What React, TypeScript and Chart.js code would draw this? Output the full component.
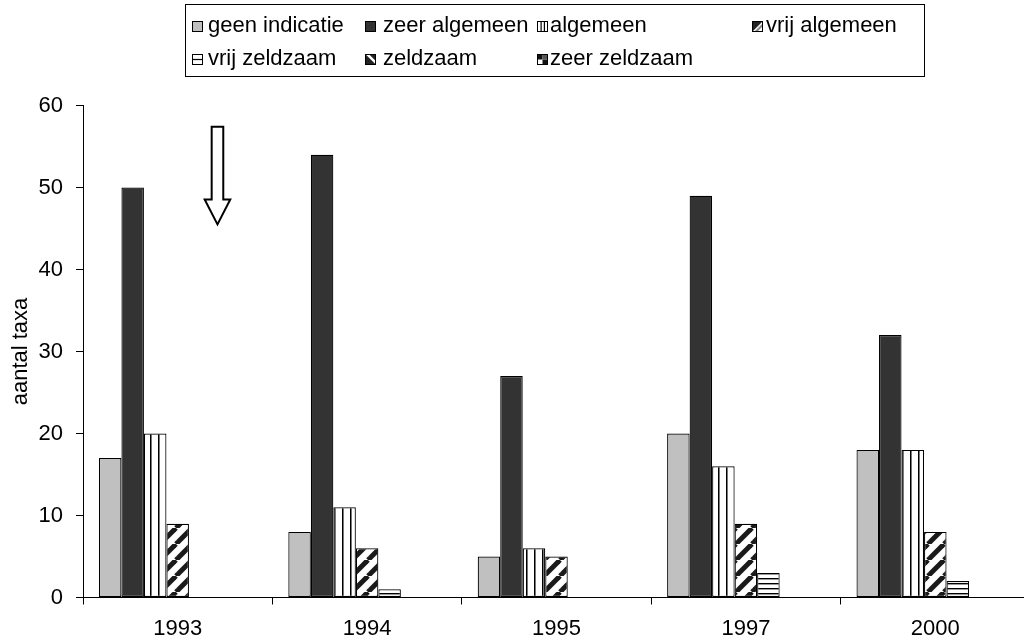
import { useEffect, useRef } from "react";
import { Chart, registerables } from "chart.js";

Chart.register(...registerables);

// Survey years on the category axis
const years = ["1993", "1994", "1995", "1997", "2000"];

// Abundance classes (series names, in drawing order)
const seriesNames = [
  "geen indicatie",
  "zeer algemeen",
  "algemeen",
  "vrij algemeen",
  "vrij zeldzaam",
  "zeldzaam",
  "zeer zeldzaam",
];

// Number of taxa per abundance class and year
const geenIndicatie = [17, 8, 5, 20, 18];
const zeerAlgemeen = [50, 54, 27, 49, 32];
const algemeen = [20, 11, 6, 16, 18];
const vrijAlgemeen = [9, 6, 5, 9, 8];
const vrijZeldzaam = [0, 1, 0, 3, 2];
const zeldzaam = [0, 0, 0, 0, 0];
const zeerZeldzaam = [0, 0, 0, 0, 0];

// Value axis
const yMin = 0;
const yMax = 60;
const yStep = 10;
const yTitle = "aantal taxa";

// Downward arrow marker: category index, fraction of a category to the right, from/to values
const arrowCategory = 0;
const arrowShift = 0.21;
const arrowFrom = 57.4;
const arrowTo = 45.5;

const FONT = "'Liberation Sans', Arial, Helvetica, sans-serif";
const FONT_SIZE = 22;

type Fill = string | CanvasPattern;

function tile(w: number, h: number, draw: (c: CanvasRenderingContext2D) => void): CanvasPattern {
  const cv = document.createElement("canvas");
  cv.width = w;
  cv.height = h;
  const c = cv.getContext("2d")!;
  c.fillStyle = "#ffffff";
  c.fillRect(0, 0, w, h);
  draw(c);
  return c.createPattern(cv, "repeat")!;
}

function buildFills(): Fill[] {
  const vertical = tile(8, 8, (c) => {
    c.fillStyle = "#000";
    c.fillRect(6, 0, 1, 8);
    c.fillStyle = "#777";
    c.fillRect(7, 0, 1, 8);
  });
  const diagUp = tile(16, 16, (c) => {
    c.strokeStyle = "#1a1a1a";
    c.lineWidth = 5;
    for (const o of [-16, 0, 16]) {
      c.beginPath();
      c.moveTo(o, 16);
      c.lineTo(o + 16, 0);
      c.stroke();
    }
  });
  const horizontal = tile(5, 5, (c) => {
    c.fillStyle = "#000";
    c.fillRect(0, 3, 5, 1);
    c.fillStyle = "#999";
    c.fillRect(0, 4, 5, 1);
  });
  const diagDown = tile(8, 8, (c) => {
    c.fillStyle = "#222";
    c.fillRect(0, 0, 8, 8);
    c.strokeStyle = "#fff";
    c.lineWidth = 2.5;
    for (const o of [-8, 0, 8]) {
      c.beginPath();
      c.moveTo(o, 0);
      c.lineTo(o + 8, 8);
      c.stroke();
    }
  });
  const checker = tile(8, 8, (c) => {
    c.fillStyle = "#111";
    c.fillRect(0, 0, 4, 4);
    c.fillRect(4, 4, 4, 4);
  });
  return ["#c0c0c0", "#333333", vertical, diagUp, horizontal, diagDown, checker];
}

// Small legend swatches, one per abundance class
function drawSwatch(c: CanvasRenderingContext2D, i: number, x: number, y: number, s: number) {
  c.save();
  c.fillStyle = "#fff";
  c.fillRect(x, y, s, s);
  c.beginPath();
  c.rect(x, y, s, s);
  c.clip();
  if (i === 0) {
    c.fillStyle = "#c0c0c0";
    c.fillRect(x, y, s, s);
  } else if (i === 1) {
    c.fillStyle = "#333";
    c.fillRect(x, y, s, s);
  } else if (i === 2) {
    c.fillStyle = "#000";
    c.fillRect(x + 3.5, y, 1.2, s);
    c.fillRect(x + 6.8, y, 1.2, s);
  } else if (i === 3) {
    c.fillStyle = "#222";
    c.beginPath();
    c.moveTo(x, y);
    c.lineTo(x + s, y);
    c.lineTo(x, y + s);
    c.closePath();
    c.fill();
    c.fillStyle = "#888";
    c.beginPath();
    c.moveTo(x + s, y + 2);
    c.lineTo(x + 2, y + s);
    c.lineTo(x + 5, y + s);
    c.lineTo(x + s, y + 5);
    c.closePath();
    c.fill();
  } else if (i === 4) {
    c.fillStyle = "#000";
    c.fillRect(x, y + s / 2 - 0.6, s, 1.2);
  } else if (i === 5) {
    c.fillStyle = "#222";
    c.fillRect(x, y, s, s);
    c.strokeStyle = "#fff";
    c.lineWidth = 2.5;
    c.beginPath();
    c.moveTo(x + 1, y - 1);
    c.lineTo(x + s + 1, y + s - 1);
    c.stroke();
  } else {
    c.fillStyle = "#111";
    c.fillRect(x, y, s / 2, s / 2);
    c.fillRect(x + s / 2, y + s / 2, s / 2, s / 2);
    c.fillStyle = "#555";
    c.fillRect(x + s / 2, y, s / 2, s / 2);
  }
  c.restore();
  c.strokeStyle = "#000";
  c.lineWidth = 1;
  c.strokeRect(x + 0.5, y + 0.5, s - 1, s - 1);
}

// Boxed legend laid out as a grid of four columns
const legendBox = { x: 185.5, y: 4.5, w: 739, h: 72 };
const legendRows = [26, 59];
const legendSwatchX = [192, 365, 537, 752];
const legendTextX = [208, 383, 550, 766];

const boxedLegend = {
  id: "boxedLegend",
  afterDraw(chart: Chart) {
    const c = chart.ctx;
    c.save();
    c.strokeStyle = "#000";
    c.lineWidth = 1;
    c.strokeRect(legendBox.x, legendBox.y, legendBox.w, legendBox.h);
    c.font = `${FONT_SIZE}px ${FONT}`;
    c.fillStyle = "#000";
    c.textBaseline = "middle";
    c.textAlign = "left";
    seriesNames.forEach((name, i) => {
      const row = i < 4 ? 0 : 1;
      const col = i < 4 ? i : i - 4;
      const cy = legendRows[row];
      drawSwatch(c, i, legendSwatchX[col], cy - 5, 11);
      c.fillStyle = "#000";
      c.fillText(name, legendTextX[col], cy);
    });
    c.restore();
  },
};

const arrowMarker = {
  id: "arrowMarker",
  afterDatasetsDraw(chart: Chart) {
    const xs = chart.scales.x;
    const ys = chart.scales.y;
    const cw = xs.getPixelForValue(1) - xs.getPixelForValue(0);
    const cx = xs.getPixelForValue(arrowCategory) + arrowShift * cw;
    const top = ys.getPixelForValue(arrowFrom);
    const tip = ys.getPixelForValue(arrowTo);
    const headH = 25;
    const shaft = 5.8;
    const head = 12.8;
    const c = chart.ctx;
    c.save();
    c.beginPath();
    c.moveTo(cx - shaft, top);
    c.lineTo(cx + shaft, top);
    c.lineTo(cx + shaft, tip - headH);
    c.lineTo(cx + head, tip - headH);
    c.lineTo(cx, tip);
    c.lineTo(cx - head, tip - headH);
    c.lineTo(cx - shaft, tip - headH);
    c.closePath();
    c.fillStyle = "#fff";
    c.fill();
    c.strokeStyle = "#000";
    c.lineWidth = 2;
    c.lineJoin = "miter";
    c.stroke();
    c.restore();
  },
};

export default function App() {
  const ref = useRef<HTMLCanvasElement | null>(null);

  useEffect(() => {
    if (!ref.current) return;
    const fills = buildFills();
    const values = [geenIndicatie, zeerAlgemeen, algemeen, vrijAlgemeen, vrijZeldzaam, zeldzaam, zeerZeldzaam];
    const chart = new Chart(ref.current, {
      type: "bar",
      data: {
        labels: years,
        datasets: seriesNames.map((name, i) => ({
          label: name,
          data: values[i],
          backgroundColor: fills[i] as any,
          borderColor: "#000",
          borderWidth: (ctx: any) => (ctx.raw === 0 ? 0 : 1.2),
          borderSkipped: false,
          categoryPercentage: 0.832,
          barPercentage: 1,
        })),
      },
      options: {
        responsive: false,
        animation: false,
        devicePixelRatio: 1,
        layout: { padding: { top: 105.5, right: 10, left: 0, bottom: 0 } },
        plugins: {
          legend: { display: false },
          tooltip: { enabled: false },
          title: { display: false },
        },
        scales: {
          x: {
            type: "category",
            grid: { offset: true, drawOnChartArea: false, drawTicks: true, tickLength: 7, color: "#000" },
            border: { display: true, color: "#000", width: 1 },
            ticks: { color: "#000", font: { family: FONT, size: FONT_SIZE }, padding: 11, maxRotation: 0 },
            afterFit: (s: any) => {
              s.height = 44.5;
            },
          },
          y: {
            min: yMin,
            max: yMax,
            grid: { drawOnChartArea: false, drawTicks: true, tickLength: 7, color: "#000" },
            border: { display: true, color: "#000", width: 1 },
            ticks: { stepSize: yStep, color: "#000", font: { family: FONT, size: FONT_SIZE }, padding: 13 },
            title: {
              display: true,
              text: yTitle,
              color: "#000",
              font: { family: FONT, size: FONT_SIZE },
              padding: { top: 7.5, bottom: 0 },
            },
            afterFit: (s: any) => {
              s.width = 83;
            },
          },
        },
      },
      plugins: [arrowMarker, boxedLegend],
    });
    return () => chart.destroy();
  }, []);

  return (
    <div style={{ position: "fixed", left: 0, top: 0, width: 1024, height: 642, overflow: "hidden", background: "#fff" }}>
      <canvas ref={ref} width={1040} height={642} style={{ display: "block", width: 1040, height: 642 }} />
    </div>
  );
}
